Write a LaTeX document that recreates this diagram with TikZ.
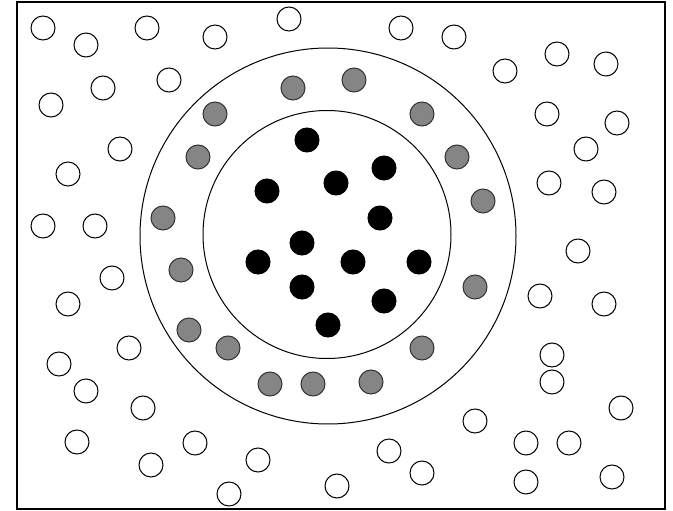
\documentclass[tikz,border=0pt]{standalone}
\begin{document}
\begin{tikzpicture}[x=1pt,y=-1pt,
  ring/.style={draw=black,line width=1pt},
  freedot/.style={draw=black,line width=1pt,fill=white},
  graydot/.style={draw=black!80,line width=1pt,fill=black!48},
  blackdot/.style={draw=black,line width=1pt,fill=black}]
\useasboundingbox (0,0) rectangle (673,511);
\fill[white] (0,0) rectangle (673,511);
\draw[line width=1.8pt] (17,2) rectangle (665,509);
% rings
\draw[ring] (328,236) circle (188);
\draw[ring] (327,234.5) circle (124);
% white particles
\foreach \x/\y in {43/28,86/45,147/28,215/37,289/19,169/80,103/88,51/105,120/149,68/174,43/226,95/226,
  401/28,454/37,505/71,557/54,606/64,547/114,617/123,586/149,549/183,604/192,578/251,
  112/278,68/304,129/348,59/364,86/391,143/408,77/442,195/443,151/465,258/460,229/494,337/486,
  540/296,604/304,552/355,552/382,621/408,475/421,526/443,569/443,389/451,422/473,526/482,612/477}
  \draw[freedot] (\x,\y) circle (12);
% gray particles
\foreach \x/\y in {293/88,354/80,215/114,422/114,198/157,457/157,483/201,163/218,181/270,475/287,
  189/330,228/348,422/348,270/384,313/384,371/382}
  \draw[graydot] (\x,\y) circle (12);
% black particles
\foreach \x/\y in {307/140,267/191,336/183,384/168,380/218,302/243,258/262,353/262,419/262,302/287,384/301,328/325}
  \draw[blackdot] (\x,\y) circle (12);
\end{tikzpicture}
\end{document}
